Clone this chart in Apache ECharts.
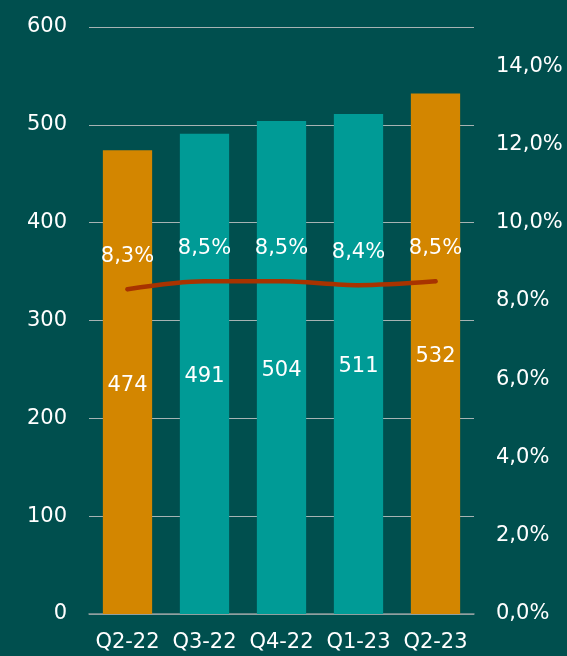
<!DOCTYPE html>
<html>
<head>
<meta charset="utf-8">
<script src="https://cdn.jsdelivr.net/npm/echarts@6/dist/echarts.min.js"></script>
<style>
  html, body { margin: 0; padding: 0; background: #004f4e; }
  #chart { width: 567px; height: 656px; }
</style>
</head>
<body>
<div id="chart"></div>
<script>
// Quarterly volumes (bars) and ratio (line, %)
const quarters = ['Q2-22', 'Q3-22', 'Q4-22', 'Q1-23', 'Q2-23'];
const volumes = [474, 491, 504, 511, 532];
const ratios = [8.3, 8.5, 8.5, 8.4, 8.5];
const highlighted = [true, false, false, false, true];

const FONT = '"DejaVu Sans", sans-serif';
const FS = 21;
const TEAL = '#009b96';
const ORANGE = '#d38600';
const LINE = '#a83300';

const fmtPct = v => v.toFixed(1).replace('.', ',') + '%';

const chart = echarts.init(document.getElementById('chart'));
chart.setOption({
  backgroundColor: '#004f4e',
  animation: false,
  grid: { left: 89, right: 93, top: 27, bottom: 42 },
  xAxis: {
    type: 'category',
    data: quarters,
    axisLine: { lineStyle: { color: '#8a9a9a', width: 1.5 } },
    axisTick: { show: false },
    axisLabel: { color: '#ffffff', fontFamily: FONT, fontSize: FS, margin: 18, interval: 0 }
  },
  yAxis: [
    {
      type: 'value', min: 0, max: 600, interval: 100,
      axisLine: { show: false }, axisTick: { show: false },
      axisLabel: { color: '#ffffff', fontFamily: FONT, fontSize: FS, margin: 22 },
      splitLine: { lineStyle: { color: '#a6b3b3', width: 1.2 } }
    },
    {
      type: 'value', min: 0, max: 15, interval: 2,
      axisLine: { show: false }, axisTick: { show: false },
      splitLine: { show: false },
      axisLabel: {
        color: '#ffffff', fontFamily: FONT, fontSize: FS, margin: 22,
        formatter: v => (v > 14 ? '' : fmtPct(v))
      }
    }
  ],
  series: [
    {
      type: 'bar',
      barWidth: '64%',
      data: volumes.map((v, i) => ({ value: v, itemStyle: { color: highlighted[i] ? ORANGE : TEAL } })),
      label: { show: true, position: 'inside', offset: [0, 3], color: '#ffffff', fontFamily: FONT, fontSize: FS }
    },
    {
      type: 'line',
      yAxisIndex: 1,
      smooth: 0.3,
      data: ratios,
      symbol: 'circle',
      symbolSize: 4,
      showSymbol: true,
      itemStyle: { color: LINE },
      lineStyle: { color: LINE, width: 4.5, cap: 'round' },
      label: {
        show: true, position: 'top', distance: 20,
        color: '#ffffff', fontFamily: FONT, fontSize: FS,
        formatter: p => fmtPct(p.value)
      },
      z: 5
    }
  ]
});
</script>
</body>
</html>
